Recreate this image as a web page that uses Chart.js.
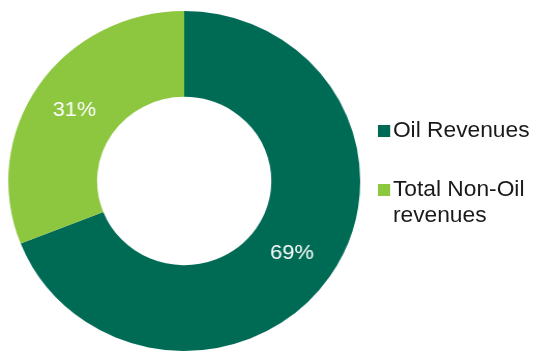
<!DOCTYPE html>
<html>
<head>
<meta charset="utf-8">
<script src="https://cdn.jsdelivr.net/npm/chart.js@4"></script>
<style>
  html, body { margin: 0; padding: 0; background: #fff; overflow: hidden; }
  /* the source picture is a little wider than tall, so stretch the whole thing */
  #wrap { position: relative; width: 533px; height: 352px; transform: scaleX(1.035); transform-origin: 0 0; }
  #chart { position: absolute; left: 0; top: 0; }
  #legend { position: absolute; left: 365px; top: 117px; font-family: "Liberation Sans", Arial, sans-serif; font-size: 22px; color: #1a1a1a; }
  .lg-item { display: flex; align-items: flex-start; margin-bottom: 32px; line-height: 26.5px; white-space: nowrap; }
  .lg-box { width: 11.6px; height: 12px; margin-top: 8px; margin-right: 3px; flex-shrink: 0; }
</style>
</head>
<body>
<div id="wrap">
  <canvas id="chart" width="533" height="352"></canvas>
  <div id="legend"></div>
</div>
<script>
var LABELS = ['Oil Revenues', 'Total Non-Oil revenues'];
var LEGEND_LINES = [['Oil Revenues'], ['Total Non-Oil', 'revenues']];
var VALUES = [69, 31];
var COLORS = ['#006B55', '#8DC63F'];

// % labels in the middle of each slice
var sliceLabels = {
  id: 'sliceLabels',
  afterDatasetsDraw: function(chart) {
    var ctx = chart.ctx;
    var meta = chart.getDatasetMeta(0);
    ctx.save();
    ctx.font = '21px "Liberation Sans", Arial, sans-serif';
    ctx.fillStyle = '#ffffff';
    ctx.textAlign = 'center';
    ctx.textBaseline = 'middle';
    meta.data.forEach(function(arc, i) {
      var p = arc.tooltipPosition();
      ctx.fillText(VALUES[i] + '%', p.x - 1, p.y + 1);
    });
    ctx.restore();
  }
};

new Chart(document.getElementById('chart'), {
  type: 'doughnut',
  data: {
    labels: LABELS,
    datasets: [{
      data: VALUES,
      backgroundColor: COLORS,
      borderWidth: 0
    }]
  },
  options: {
    responsive: false,
    animation: false,
    cutout: '49.5%',
    layout: { padding: { top: 11, bottom: 1, left: 8, right: 185 } },
    plugins: { legend: { display: false }, tooltip: { enabled: false } }
  },
  plugins: [sliceLabels]
});

document.getElementById('legend').innerHTML = LEGEND_LINES.map(function(lines, i) {
  return '<div class="lg-item"><div class="lg-box" style="background:' + COLORS[i] + '"></div>' +
         '<div>' + lines.join('<br>') + '</div></div>';
}).join('');
</script>
</body>
</html>
